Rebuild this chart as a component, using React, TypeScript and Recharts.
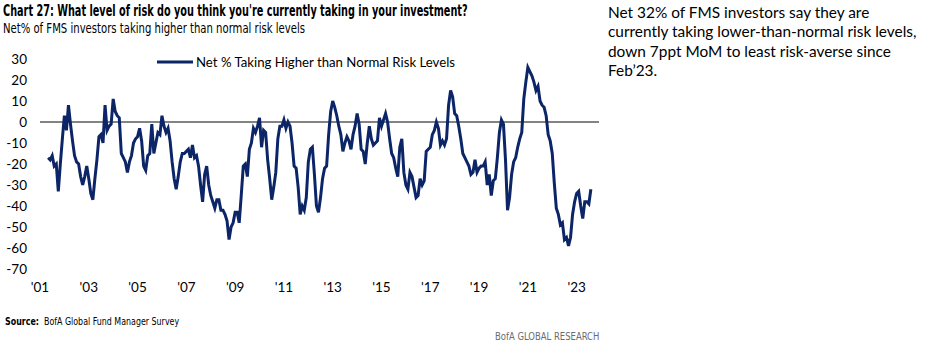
import React from 'react';
import { LineChart, Line, XAxis, YAxis, ReferenceLine } from 'recharts';

// Monthly series starts May 2001 (month index 4 counting from Jan 2001)
const START_YEAR = 2001;
const START_MONTH_INDEX = 4;

const riskValues: number[] = [
  -17, -18, -16, -21, -20, -33, -20, -8,
  3, -4, 8, -1, -9, -16, -19, -20, -26, -30, -26, -21,
  -27, -34, -37, -27, -18, -7, -6, -10, 8, -4, -2, -1,
  11, 5, 3, 2, -15, -17, -19, -24, -19, -16, -10, -8,
  -7, -3, -9, -21, -23, -16, -15, -1, -15, -10, -5, -6,
  3, -2, -5, -3, -9, -19, -27, -32, -26, -19, -15, -15,
  -14, -13, -17, -11, -17, -16, -21, -30, -38, -25, -21, -30,
  -35, -38, -41, -37, -37, -42, -42, -44, -47, -56, -50, -48,
  -43, -43, -48, -35, -21, -20, -26, -13, -10, -3, -5, -2,
  2, -12, -4, -5, -18, -27, -37, -31, -24, -8, -2, -2,
  1, -3, 0, -2, -10, -21, -22, -31, -44, -40, -42, -36,
  -19, -13, -12, -25, -40, -43, -36, -27, -22, -21, -6, 5,
  10, 7, 3, -2, -6, -14, -10, -7, -9, -13, -6, -2,
  4, -1, -13, -14, -20, -10, -2, -8, -11, -10, -9, 2,
  -2, 1, 4, 0, -8, -15, -17, -22, -26, -12, -8, -24,
  -30, -32, -24, -26, -31, -36, -35, -27, -30, -28, -14, -13,
  -12, -6, -4, 0, -3, -11, -9, -11, -8, 8, 15, 12,
  4, 3, -2, -8, -15, -17, -19, -21, -25, -24, -18, -24,
  -22, -21, -21, -19, -30, -25, -35, -28, -27, -17, -5, 1,
  -1, -18, -42, -36, -25, -19, -17, -12, -8, -5, 11, 19,
  26, 24, 22, 19, 15, 17, 10, 8, 7, 3, -6, -9,
  -15, -29, -41, -44, -49, -48, -56, -55, -59, -55, -44, -38,
  -34, -33, -40, -46, -38, -38, -39, -32,
];

const yTicks = [30, 20, 10, 0, -10, -20, -30, -40, -50, -60, -70];
const xTickYears = [2001, 2003, 2005, 2007, 2009, 2011, 2013, 2015, 2017, 2019, 2021, 2023];

const seriesName = 'Net % Taking Higher than Normal Risk Levels';
const titleText = "Chart 27: What level of risk do you think you're currently taking in your investment?";
const subtitleText = 'Net% of FMS investors taking higher than normal risk levels';
const commentLines = [
  'Net 32% of FMS investors say they are',
  'currently taking lower-than-normal risk levels,',
  'down 7ppt MoM to least risk-averse since',
  'Feb\u201923.',
];

const data = riskValues.map((v, i) => ({ m: START_MONTH_INDEX + i, value: v }));
const xTicks = xTickYears.map((y) => (y - START_YEAR) * 12);

const NAVY = '#0b2567';
const narrow = '"DejaVu Sans Condensed", "DejaVu Sans", sans-serif';
const body = 'Lato, "Open Sans", sans-serif';

const squeeze = (s: number): React.CSSProperties => ({
  transform: `scaleX(${s})`,
  transformOrigin: '0 0',
  whiteSpace: 'nowrap',
});

export default function App() {
  return (
    <div style={{ position: 'absolute', left: 0, top: 0, width: 926, height: 352, background: '#fff', overflow: 'hidden' }}>
      <div style={{ position: 'absolute', left: 3, top: 2, fontFamily: narrow, fontWeight: 700, fontSize: 15, color: '#000', ...squeeze(0.72) }}>
        {titleText}
      </div>
      <div style={{ position: 'absolute', left: 3, top: 20, fontFamily: narrow, fontSize: 14, color: '#000', ...squeeze(0.8) }}>
        {subtitleText}
      </div>
      <div style={{ position: 'absolute', left: 608, top: 3, fontFamily: body, fontSize: 15.4, lineHeight: '19.3px', color: '#000' }}>
        {commentLines.map((l, i) => (
          <div key={i} style={{ whiteSpace: 'nowrap' }}>{l}</div>
        ))}
      </div>
      <div style={{ position: 'absolute', left: 157, top: 54, display: 'flex', alignItems: 'center', fontFamily: body, fontSize: 13.2, color: '#000', whiteSpace: 'nowrap' }}>
        <svg width={36} height={10} style={{ marginRight: 3 }}>
          <line x1={0} y1={5} x2={36} y2={5} stroke={NAVY} strokeWidth={3} />
        </svg>
        <span>{seriesName}</span>
      </div>
      <div style={{ position: 'absolute', left: 0, top: 0 }}>
        <LineChart width={610} height={310} data={data} margin={{ top: 59, right: 11, left: 0, bottom: 11 }}>
          <XAxis
            type="number"
            dataKey="m"
            domain={[0, 275]}
            ticks={xTicks}
            tickFormatter={(m: number) => "'" + String(START_YEAR + m / 12).slice(2)}
            axisLine={false}
            tickLine={false}
            tickSize={0}
            tickMargin={13}
            height={30}
            interval={0}
            tick={{ fill: '#000', fontSize: 13.5, fontFamily: body }}
          />
          <YAxis
            type="number"
            domain={[-70, 30]}
            ticks={yTicks}
            axisLine={false}
            tickLine={false}
            tickSize={0}
            tickMargin={13}
            width={40}
            interval={0}
            tick={{ fill: '#000', fontSize: 13.5, fontFamily: body }}
          />
          <ReferenceLine y={0} stroke="#5a5a5a" strokeWidth={1.5} />
          <Line
            type="linear"
            dataKey="value"
            name={seriesName}
            stroke={NAVY}
            strokeWidth={3}
            dot={false}
            isAnimationActive={false}
          />
        </LineChart>
      </div>
      <div style={{ position: 'absolute', left: 5, top: 316, fontFamily: narrow, fontSize: 10, color: '#000', ...squeeze(0.88) }}>
        <b>Source:</b>&nbsp; BofA Global Fund Manager Survey
      </div>
      <div style={{ position: 'absolute', left: 495, top: 331, fontFamily: narrow, fontSize: 10, color: '#6b6b6b', ...squeeze(0.94) }}>
        BofA GLOBAL RESEARCH
      </div>
    </div>
  );
}
